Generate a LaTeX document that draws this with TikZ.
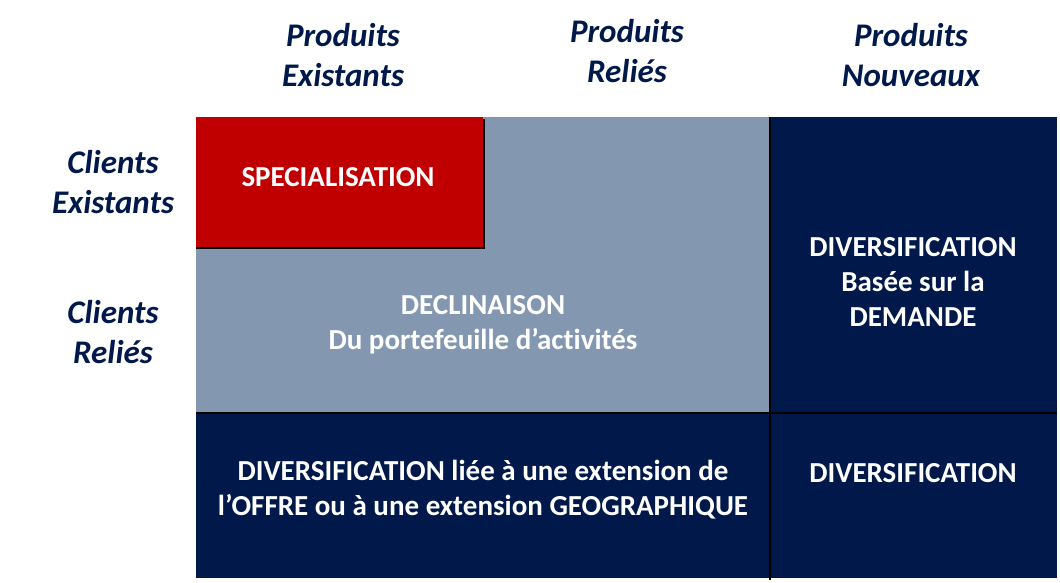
\documentclass[tikz,border=0pt]{standalone}
\usepackage{fontspec}
\setmainfont{Carlito}[Ligatures=NoCommon]
\definecolor{rouge}{RGB}{192,0,0}
\definecolor{gris}{RGB}{132,151,176}
\definecolor{marine}{RGB}{0,25,74}
\tikzset{
  tete/.style={text=marine, font=\fontsize{33}{40}\selectfont\bfseries\itshape, align=center, inner sep=0pt},
  boite/.style={text=white, font=\fontsize{29}{35}\selectfont\bfseries, align=center, inner sep=0pt},
}
\begin{document}
\begin{tikzpicture}[x=1pt, y=-1pt]
  \def\xa{196}
  \def\xb{483}
  \def\xc{770}
  \def\xd{1057}
  \def\ya{117}
  \def\yb{247}
  \def\yc{413}
  \def\yd{578}
  \useasboundingbox (0, 0) rectangle (1060, 582);
  % fonds
  \fill [gris] (\xa, \ya) rectangle (\xc, \yc);
  \fill [marine] (\xc, \ya) rectangle (\xd, \yd);
  \fill [marine] (\xa, \yc) rectangle (\xc, \yd);
  \fill [black] (\xa, \ya + 2) rectangle (\xb + 2, \yb + 2);
  \fill [rouge] (\xa, \ya) rectangle (\xb, \yb);
  \draw [line width=2pt] (\xc, \ya) -- (\xc, \yd + 2)
                         (\xa, \yc) -- (\xd, \yc);
  % en-tetes
  \node [tete] (pe) at (343, 55) {Produits\\Existants};
  \node [tete] (pr) at (627, 51) {Produits\\Reliés};
  \node [tete] (pn) at (911, 55) {Produits\\Nouveaux};
  \node [tete] (ce) at (113, 182) {Clients\\Existants};
  \node [tete] (cr) at (113, 332) {Clients\\Reliés};
  % cases
  \node [boite] (spec) at (338, 177) {SPECIALISATION};
  \node [boite] (decl) at (483, 325) {DECLINAISON\\Du portefeuille d’activités};
  \node [boite] (dem) at (913, 282) {DIVERSIFICATION\\Basée sur la\\DEMANDE};
  \node [boite] (ext) at (483, 490) {DIVERSIFICATION liée à une extension de\\l’OFFRE ou à une extension GEOGRAPHIQUE};
  \node [boite] (div) at (913, 473) {DIVERSIFICATION};
\end{tikzpicture}
\end{document}
